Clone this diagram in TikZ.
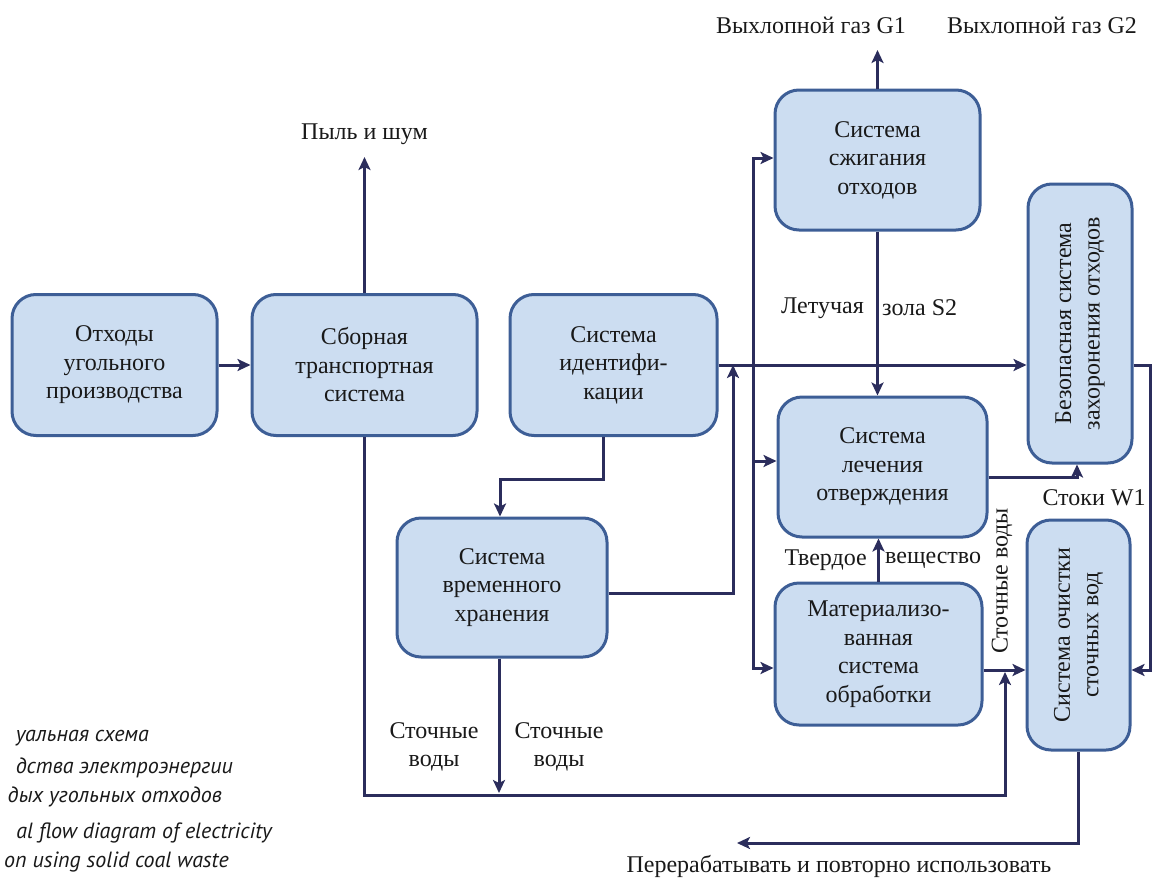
\documentclass[tikz,border=0pt]{standalone}
\usepackage{fontspec}
\setmainfont{Liberation Serif}
\newfontfamily\capfont{PT Sans}
\usetikzlibrary{arrows.meta}
\definecolor{boxfill}{HTML}{CCDDF1}
\definecolor{boxline}{HTML}{3D5E96}
\definecolor{connc}{HTML}{2B2D5C}
\begin{document}
\begin{tikzpicture}[x=1pt,y=-1pt,
  box/.style={draw=boxline, fill=boxfill, line width=3pt, rounded corners=24pt, align=center, inner sep=0pt, text=black!90, font=\fontsize{24}{28.5}\selectfont},
  lbl/.style={align=center, inner sep=0pt, text=black!90, font=\fontsize{24}{28.5}\selectfont},
  captxt/.style={anchor=east, inner sep=0pt, text=black!90, font=\capfont\itshape\fontsize{22}{26}\selectfont},
  cline/.style={draw=connc, line width=3pt},
  carr/.style={cline, -{Stealth[length=13pt,width=12pt,inset=3pt]}}]
\useasboundingbox (0,0) rectangle (1154,878);
% boxes
\node[box, minimum width=205pt, minimum height=141pt] (b1) at (114.5,365) {Отходы\\угольного\\производства};
\node[box, minimum width=225pt, minimum height=141pt] (b2) at (364.5,365) {Сборная\\транспортная\\система};
\node[box, minimum width=207pt, minimum height=141pt] (b3) at (613.5,365) {Система\\идентифи-\\кации};
\node[box, minimum width=210pt, minimum height=139pt] (tmp) at (502,587.5) {Система\\временного\\хранения};
\node[box, minimum width=205pt, minimum height=140pt] (sz) at (877.5,160) {Система\\сжигания\\отходов};
\node[box, minimum width=209pt, minimum height=140pt] (lech) at (882.5,467) {Система\\лечения\\отверждения};
\node[box, minimum width=207pt, minimum height=142pt] (mat) at (878.5,654) {Материализо-\\ванная\\система\\обработки};
\node[box, minimum width=104pt, minimum height=279pt] (bez) at (1080,323.5) {};
\node[lbl, rotate=90] (bezt) at (bez.center) {Безопасная система\\захоронения отходов};
\node[box, minimum width=103pt, minimum height=230pt] (och) at (1078.5,635) {};
\node[lbl, rotate=90] (ocht) at (och.center) {Система очистки\\сточных вод};
% labels
\node[lbl] (dust) at (364.5,134) {Пыль и шум};
\node[lbl] (g1) at (811,25) {Выхлопной газ G1};
\node[lbl] (g2) at (1042,25) {Выхлопной газ G2};
\node[lbl, anchor=east] (let) at (864,308) {Летучая};
\node[lbl, anchor=west] (zola) at (882,308) {зола S2};
\node[lbl, anchor=east] (tv) at (867,560) {Твердое};
\node[lbl, anchor=west] (vesh) at (885,560) {вещество};
\node[lbl] (stw1) at (1094,498) {Стоки W1};
\node[lbl, rotate=90] (sv3) at (1002,581) {Сточные воды};
\node[lbl] (sv1) at (434,747) {Сточные\\воды};
\node[lbl] (sv2) at (559,747) {Сточные\\воды};
\node[lbl] (rec) at (839,866) {Перерабатывать и повторно использовать};
% caption fragments
\node[captxt] (c1) at (149,738) {уальная схема};
\node[captxt] (c2) at (233,768) {дства электроэнергии};
\node[captxt] (c3) at (222,797) {дых угольных отходов};
\node[captxt] (c4) at (272,833) {al flow diagram of electricity};
\node[captxt] (c5) at (229,862) {on using solid coal waste};
% coordinates
\coordinate (jn) at (753,365);
\coordinate (ret) at (733,365);
\coordinate (bl) at (1005,795);
\coordinate (rr) at (1150,365);
\coordinate (recend) at (737,843);
% connectors
\draw[carr] (b1.east) -- (b2.west);
\draw[carr] (b2.north) -- (dust.south |- 0,157);
\draw[carr] (b3.east) -- (bez.west |- b3.east);
\draw[carr] (b3.south -| 603,0) |- (500,479) -- (500,0 |- tmp.north);
\draw[carr] (tmp.east |- 0,593) -| (ret);
\draw[carr] (jn) |- (sz.west |- 0,158);
\draw[carr] (jn) |- (lech.west |- 0,461);
\draw[carr] (jn) |- (mat.west |- 0,668);
\draw[carr] (sz.north) -- (sz.north |- 0,50);
\draw[carr] (sz.south) -- (sz.south |- lech.north);
\draw[carr] (mat.north) -- (mat.north |- lech.south);
\draw[carr] (lech.east |- 0,477) -| (bez.south -| 1077,0);
\draw[carr] (mat.east |- 0,670) -- (och.west |- 0,670);
\draw[carr] (bez.east |- rr) -- (rr) |- (och.east |- 0,670);
\draw[carr] (b2.south) |- (bl) -- (1005,672);
\draw[carr] (tmp.south -| 499,0) -- (499,793);
\draw[carr] (och.south) |- (recend);
\end{tikzpicture}
\end{document}
